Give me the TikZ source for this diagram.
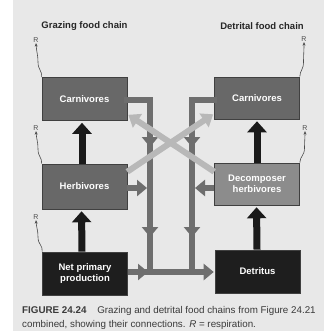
\documentclass[tikz,border=0pt]{standalone}
\usepackage{fontspec}
\setmainfont{Liberation Sans}
\usetikzlibrary{arrows.meta}
\definecolor{pagegray}{HTML}{E8E8E8}
\definecolor{midbox}{HTML}{686868}
\definecolor{lightbox}{HTML}{8C8C8C}
\definecolor{darkbox}{HTML}{1E1E1E}
\definecolor{barcol}{HTML}{6E6E6E}
\definecolor{crosscol}{HTML}{B8B8B8}
\definecolor{blkcol}{HTML}{1A1A1A}
\definecolor{capcol}{HTML}{3A3A3A}
\begin{document}
\begin{tikzpicture}[x=1pt,y=-1pt,
  box/.style={draw=black!75, line width=0.6pt, minimum width=85pt, text=white,
    font=\bfseries\fontsize{9.5}{11}\selectfont, align=center, inner sep=0pt},
  titlelab/.style={font=\bfseries\fontsize{9.5}{11}\selectfont, text=black!85, inner sep=0pt},
  rlab/.style={font=\fontsize{7}{8}\selectfont, text=black!70, inner sep=0.5pt},
  resp/.style={draw=black!70, line width=0.6pt, -{Stealth[length=3.5pt,width=3pt]}},
  bar/.style={draw=barcol, line width=6pt},
  bartip/.style={draw=barcol, line width=6pt, -{Triangle[width=16pt,length=10pt]}},
  crossarrow/.style={draw=crosscol, line width=6pt, -{Triangle[width=16pt,length=11pt]}},
  blkarrow/.style={draw=blkcol, line width=7pt, -{Triangle[width=19pt,length=11pt]}, shorten >=2pt},
  caption/.style={anchor=west, font=\fontsize{9.8}{11}\selectfont, text=capcol, inner sep=0pt}
]
\fill[white] (0,0) rectangle (324,331);
\fill[pagegray] (13,0) rectangle (324,331);
\useasboundingbox (0,0) rectangle (324,331);

% titles
\node[titlelab] (tg) at (84.5,26) {Grazing food chain};
\node[titlelab] (td) at (262,26) {Detrital food chain};

% boxes
\node[box, fill=midbox, minimum height=43pt] (cL) at (84.5,99) {Carnivores};
\node[box, fill=midbox, minimum height=45pt] (hL) at (84.5,186.5) {Herbivores};
\node[box, fill=darkbox, minimum height=43pt] (pL) at (85,273.5) {Net primary\\production};
\node[box, fill=midbox, minimum height=42pt] (cR) at (257,98) {Carnivores};
\node[box, fill=lightbox, minimum height=42pt] (dR) at (257,184) {Decomposer\\herbivores};
\node[box, fill=darkbox, minimum height=43pt] (tR) at (257.5,271.5) {Detritus};

% respiration labels
\node[rlab] (r1) at (36,40) {R};
\node[rlab] (r2) at (36,128) {R};
\node[rlab] (r3) at (36,217) {R};
\node[rlab] (r4) at (304,39) {R};
\node[rlab] (r5) at (305,128) {R};

\draw[resp] (cL.north west) .. controls (42,70) and (38,70) .. (38,62) .. controls (38,55) and (36.5,52) .. (r1.south);
\draw[resp] (hL.north west) .. controls (42,157) and (38,157) .. (38,149) .. controls (38,142) and (36.5,139) .. (r2.south);
\draw[resp] (pL.north west) .. controls (43,245) and (38,245) .. (38,237) .. controls (38,230) and (36.5,228) .. (r3.south);
\draw[resp] (cR.north east) .. controls (300,70) and (303.5,70) .. (303.5,62) .. controls (303.5,55) and (304,52) .. (r4.south);
\draw[resp] (dR.north east) .. controls (300,156) and (304.5,156) .. (304.5,148) .. controls (304.5,141) and (305,139) .. (r5.south);

% dark gray connector bars
\coordinate (jL) at (150,100);
\coordinate (jR) at (192,100);
\coordinate (bL) at (150,272);
\coordinate (bR) at (192,272);
\draw[bar, line cap=rect] (cL.east |- jL) -- (jL) -- (bL);
\draw[bar, line cap=rect] (cR.west |- jR) -- (jR) -- (bR);
\draw[bar] (pL.east |- bL) -- (bL) -- (bR) -- (200,272);

% arrow heads on the bars
\coordinate (hmL) at (147,188);
\coordinate (hmR) at (195,188);
\draw[bartip] (hL.east |- hmL) -- (hmL);
\draw[bartip] (dR.west |- hmR) -- (hmR);
\coordinate (a1s) at (150,130); \coordinate (a1) at (150,147);
\coordinate (a2s) at (150,220); \coordinate (a2) at (150,237);
\coordinate (a3s) at (192,130); \coordinate (a3) at (192,147);
\coordinate (a4s) at (192,220); \coordinate (a4) at (192,237);
\draw[bartip] (a1s) -- (a1);
\draw[bartip] (a2s) -- (a2);
\draw[bartip] (a3s) -- (a3);
\draw[bartip] (a4s) -- (a4);
\coordinate (a5s) at (130,272); \coordinate (a5) at (148,272);
\draw[bartip] (a5s) -- (a5);
\coordinate (a6s) at (195,272);
\draw[bartip] (a6s) -- ([xshift=-1pt]tR.west |- a6s);

% light gray crossing arrows
\draw[crossarrow] ([yshift=-8pt]hL.north east) -- ([xshift=-1pt,yshift=5pt]cR.south west);
\draw[crossarrow] ([yshift=-9pt]dR.north west) -- ([xshift=1pt,yshift=6pt]cL.south east);

% black arrows
\draw[blkarrow] ([xshift=-2.5pt]hL.north) -- ([xshift=-2.5pt]cL.south);
\draw[blkarrow] ([xshift=-3pt]pL.north) -- ([xshift=-3pt]hL.south);
\draw[blkarrow] (dR.north) -- (cR.south);
\draw[blkarrow] ([xshift=-0.5pt]tR.north) -- ([xshift=-0.5pt]dR.south);

% caption
\node[caption] (cap1) at (22,311) {\textbf{FIGURE 24.24}\hspace{1.1em}Grazing and detrital food chains from Figure 24.21};
\node[caption] (cap2) at (22,325) {combined, showing their connections. \textit{R} = respiration.};
\end{tikzpicture}
\end{document}
